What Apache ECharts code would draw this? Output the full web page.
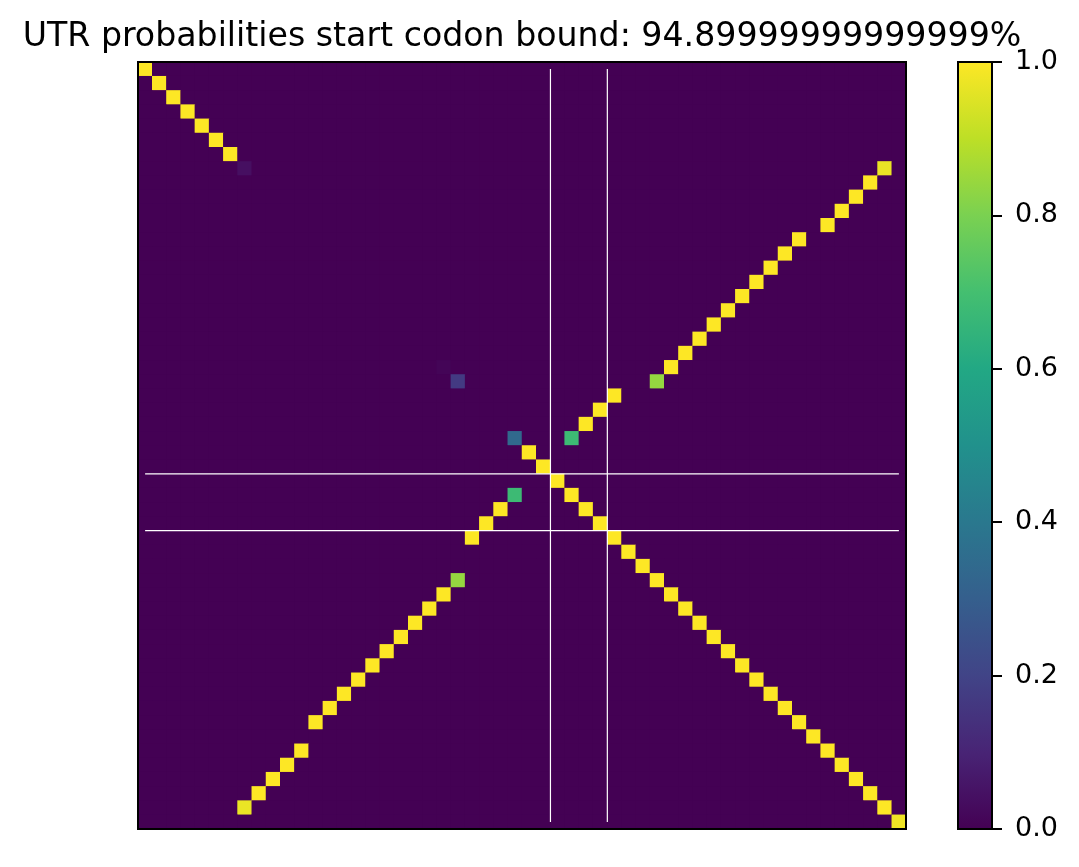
<!DOCTYPE html>
<html>
<head>
<meta charset="utf-8">
<script src="https://cdn.jsdelivr.net/npm/echarts@6/dist/echarts.min.js"></script>
<style>
html,body{margin:0;padding:0;background:#fff;}
#chart{width:1079px;height:867px;}
</style>
</head>
<body>
<div id="chart"></div>
<script>
// ---- data ----
const titleText = 'UTR probabilities start codon bound: 94.89999999999999%';
const N = 54; // matrix size (rows = cols)
// non-zero cells: [row, col, value]; all other cells are 0
const diagonalCells = [
  [0,0,1],[1,1,1],[2,2,1],[3,3,1],[4,4,1],[5,5,1],[6,6,1],[7,7,0.04],
  [21,21,0.01],[22,22,0.17],[26,26,0.34],
  [27,27,1],[28,28,1],[29,29,1],[30,30,1],[31,31,1],[32,32,1],[33,33,1],
  [34,34,1],[35,35,1],[36,36,1],[37,37,1],[38,38,1],[39,39,1],[40,40,1],
  [41,41,1],[42,42,1],[43,43,1],[44,44,1],[45,45,1],[46,46,1],[47,47,1],
  [48,48,1],[49,49,1],[50,50,1],[51,51,1],[52,52,1],[53,53,0.98]
];
const upperCells = [
  [7,52,0.97],[8,51,1],[9,50,1],[10,49,1],[11,48,1],
  [12,46,1],[13,45,1],[14,44,1],[15,43,1],[16,42,1],[17,41,1],[18,40,1],
  [19,39,1],[20,38,1],[21,37,1],[22,36,0.84],
  [23,33,1],[24,32,1],[25,31,1],[26,30,0.68]
];
const lowerCells = [
  [52,7,0.97],[51,8,1],[50,9,1],[49,10,1],[48,11,1],
  [46,12,1],[45,13,1],[44,14,1],[43,15,1],[42,16,1],[41,17,1],[40,18,1],
  [39,19,1],[38,20,1],[37,21,1],[36,22,0.84],
  [33,23,1],[32,24,1],[31,25,1],[30,26,0.68]
];
const boundaryPositions = [28.5, 32.5]; // white guide lines
const lineSpan = [0, 53];
const colorbarTicks = [0, 0.2, 0.4, 0.6, 0.8, 1.0];
const viridis = ['#440154','#482475','#414487','#355f8d','#2a788e','#21918c',
                 '#22a884','#44bf70','#7ad151','#bddf26','#fde725'];

// ---- build matrix ----
const matrix = [];
for (let r = 0; r < N; r++) { matrix.push(new Array(N).fill(0)); }
[...diagonalCells, ...upperCells, ...lowerCells].forEach(([r,c,v]) => { matrix[r][c] = v; });
const heatData = [];
for (let r = 0; r < N; r++) for (let c = 0; c < N; c++) heatData.push([c, r, matrix[r][c]]);
const cats = Array.from({length: N}, (_, i) => String(i));

const lineSeries = [];
boundaryPositions.forEach(p => {
  lineSeries.push({type:'line', xAxisIndex:1, yAxisIndex:1, data:[[p,lineSpan[0]],[p,lineSpan[1]]],
    symbol:'none', lineStyle:{color:'#fff', width:1.2}, z:5, silent:true, animation:false});
  lineSeries.push({type:'line', xAxisIndex:1, yAxisIndex:1, data:[[lineSpan[0],p],[lineSpan[1],p]],
    symbol:'none', lineStyle:{color:'#fff', width:1.2}, z:5, silent:true, animation:false});
});

const gradStops = viridis.map((c, i) => ({offset: i/(viridis.length-1), color: c}));
const font = 'DejaVu Sans';
const chart = echarts.init(document.getElementById('chart'), null, {renderer:'canvas'});
chart.setOption({
  animation: false,
  backgroundColor: '#fff',
  title: {text: titleText, left: 522, top: 21, textAlign: 'center', padding: 0,
    textStyle: {fontFamily: font, fontSize: 33.2, fontWeight: 'normal', color: '#000', lineHeight: 33}},
  grid: [
    {left:138, top:62, width:768, height:767, show:true, backgroundColor:'#440154', borderWidth:0},
    {left:138, top:62, width:768, height:767, show:true, backgroundColor:'transparent', borderColor:'#000', borderWidth:2, z:10},
    {left:958, top:62, width:34, height:767, show:true, backgroundColor:'transparent', borderColor:'#000', borderWidth:2, z:10}
  ],
  xAxis: [
    {type:'category', gridIndex:0, data:cats, show:false},
    {type:'value', gridIndex:1, min:-0.5, max:N-0.5, show:false},
    {type:'category', gridIndex:2, data:['cb'], show:false}
  ],
  yAxis: [
    {type:'category', gridIndex:0, data:cats, inverse:true, show:false},
    {type:'value', gridIndex:1, min:-0.5, max:N-0.5, inverse:true, show:false},
    {type:'value', gridIndex:2, min:0, max:1, interval:0.2, position:'right',
      axisLine:{show:true, lineStyle:{color:'#000', width:2}},
      axisTick:{show:true, length:10, lineStyle:{color:'#000', width:2}},
      splitLine:{show:false},
      axisLabel:{show:true, margin:23, color:'#000', fontSize:27, fontFamily:font,
        formatter: v => colorbarTicks.some(t => Math.abs(t-v) < 1e-9) ? v.toFixed(1) : ''}}
  ],
  visualMap: {type:'continuous', min:0, max:1, show:false, seriesIndex:0, inRange:{color:viridis}},
  series: [
    {type:'heatmap', xAxisIndex:0, yAxisIndex:0, data:heatData, silent:true, z:2,
      emphasis:{disabled:true}, itemStyle:{borderWidth:0}},
    ...lineSeries,
    {type:'bar', xAxisIndex:2, yAxisIndex:2, data:[1], barWidth:'100%', silent:true,
      itemStyle:{color:new echarts.graphic.LinearGradient(0,1,0,0,gradStops)}}
  ]
});
</script>
</body>
</html>
